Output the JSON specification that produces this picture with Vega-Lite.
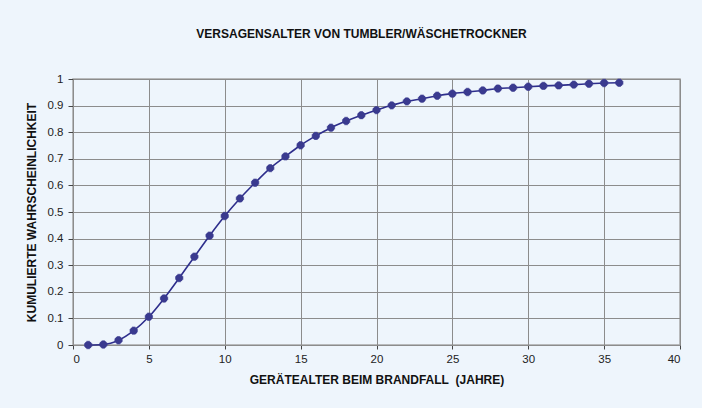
{
  "$schema": "https://vega.github.io/schema/vega-lite/v6.json",
  "width": 607,
  "height": 266,
  "autosize": "none",
  "padding": {"left": 73, "top": 79, "right": 22, "bottom": 63},
  "background": "#EEF5FC",
  "title": {
    "text": "VERSAGENSALTER VON TUMBLER/WÄSCHETROCKNER",
    "font": "Liberation Sans",
    "fontSize": 12,
    "fontWeight": "bold",
    "color": "#111111",
    "anchor": "middle",
    "offset": 32,
    "dx": -15
  },
  "config": {
    "view": {"stroke": "#a6a6a6", "strokeWidth": 1.5, "fill": "#EEF5FC"},
    "axis": {
      "labelFont": "Liberation Sans",
      "labelFontSize": 11.5,
      "labelColor": "#222222",
      "titleFont": "Liberation Sans",
      "titleFontSize": 12,
      "titleFontWeight": "bold",
      "titleColor": "#111111",
      "gridColor": "#8c8c8c",
      "gridWidth": 1,
      "gridOpacity": 1,
      "domainColor": "#8c8c8c",
      "tickColor": "#444444",
      "tickSize": 4
    }
  },
  "data": {
    "values": [
      {"alter": 1, "p": 0.0},
      {"alter": 2, "p": 0.002},
      {"alter": 3, "p": 0.018},
      {"alter": 4, "p": 0.054},
      {"alter": 5, "p": 0.106},
      {"alter": 6, "p": 0.175},
      {"alter": 7, "p": 0.252},
      {"alter": 8, "p": 0.332},
      {"alter": 9, "p": 0.411},
      {"alter": 10, "p": 0.485},
      {"alter": 11, "p": 0.551},
      {"alter": 12, "p": 0.61},
      {"alter": 13, "p": 0.665},
      {"alter": 14, "p": 0.709},
      {"alter": 15, "p": 0.751},
      {"alter": 16, "p": 0.786},
      {"alter": 17, "p": 0.817},
      {"alter": 18, "p": 0.842},
      {"alter": 19, "p": 0.864},
      {"alter": 20, "p": 0.883},
      {"alter": 21, "p": 0.901},
      {"alter": 22, "p": 0.916},
      {"alter": 23, "p": 0.926},
      {"alter": 24, "p": 0.937},
      {"alter": 25, "p": 0.945},
      {"alter": 26, "p": 0.951},
      {"alter": 27, "p": 0.957},
      {"alter": 28, "p": 0.964},
      {"alter": 29, "p": 0.967},
      {"alter": 30, "p": 0.971},
      {"alter": 31, "p": 0.974},
      {"alter": 32, "p": 0.976},
      {"alter": 33, "p": 0.979},
      {"alter": 34, "p": 0.982},
      {"alter": 35, "p": 0.985},
      {"alter": 36, "p": 0.986}
    ]
  },
  "encoding": {
    "x": {
      "field": "alter",
      "type": "quantitative",
      "scale": {"domain": [0, 40], "nice": false},
      "axis": {
        "values": [0, 5, 10, 15, 20, 25, 30, 35, 40],
        "title": "GERÄTEALTER BEIM BRANDFALL\u00a0 (JAHRE)",
        "titlePadding": 10,
        "labelPadding": 4
      }
    },
    "y": {
      "field": "p",
      "type": "quantitative",
      "scale": {"domain": [0, 1], "nice": false},
      "axis": {
        "values": [0, 0.1, 0.2, 0.3, 0.4, 0.5, 0.6, 0.7, 0.8, 0.9, 1],
        "format": "~g",
        "title": "KUMULIERTE WAHRSCHEINLICHKEIT",
        "titlePadding": 9,
        "labelPadding": 5,
        "tickSize": 5
      }
    }
  },
  "layer": [
    {"mark": {"type": "line", "color": "#2e2e8c", "strokeWidth": 1.6, "interpolate": "monotone"}},
    {"mark": {"type": "point", "shape": "circle", "filled": true, "size": 55, "color": "#3a3a8f", "opacity": 1}},
    {"mark": {"type": "point", "shape": "cross", "filled": true, "size": 70, "color": "#3a3a8f", "opacity": 0.6}}
  ]
}
